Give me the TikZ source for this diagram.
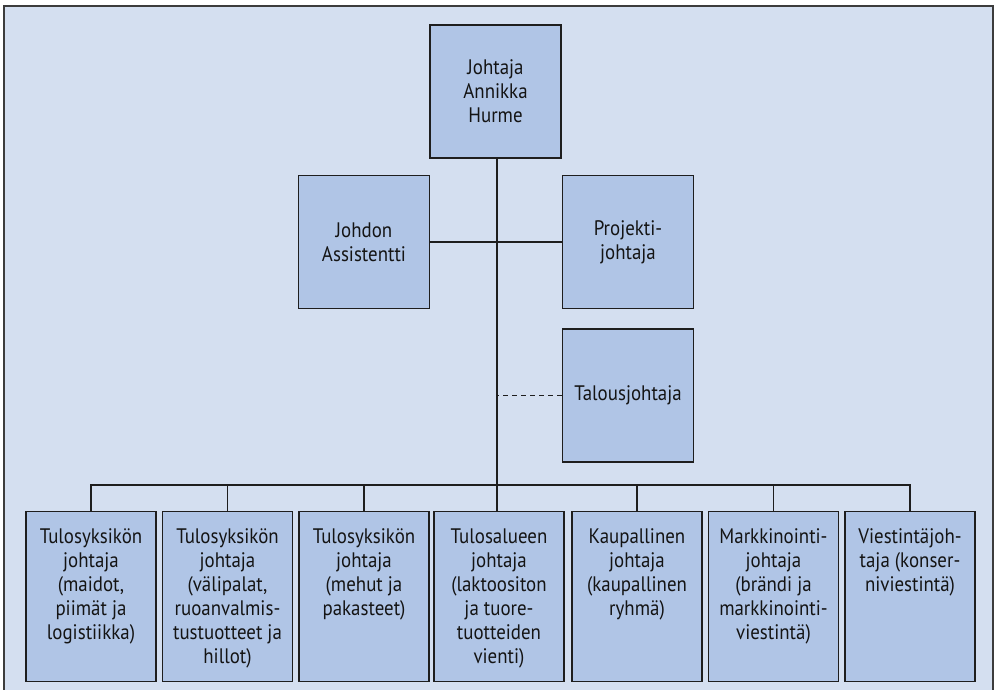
\documentclass[tikz,border=0pt]{standalone}
\usepackage{fontspec}
\setmainfont{PT Sans}[FakeStretch=0.9]
\usepackage{tikz}
\usetikzlibrary{positioning}
\definecolor{orgbg}{RGB}{212,223,240}
\definecolor{orgfill}{RGB}{176,197,230}
\definecolor{orgline}{RGB}{30,30,30}
\definecolor{orgtext}{RGB}{20,20,20}
\definecolor{orgframe}{RGB}{60,60,60}
\newcommand{\orgfont}{\fontsize{21}{24}\selectfont}
\newcommand{\unittext}[1]{\parbox[c][170pt][t]{128pt}{\vspace*{17pt}\centering #1}}

\begin{document}
\begin{tikzpicture}[x=1pt, y=-1pt,
    box/.style={rectangle, minimum width=131pt, minimum height=133pt,
      draw=orgline, line width=1.3pt, fill=orgfill, align=center,
      font=\orgfont, text=orgtext},
    unit/.style={rectangle, anchor=north, inner sep=0pt, minimum width=130pt,
      minimum height=170pt, draw=orgline, line width=1.3pt, fill=orgfill,
      font=\orgfont, text=orgtext},
    link/.style={draw=orgline, line width=1.1pt}
  ]
    \clip (0,0) rectangle (998,689);
    % Background frame
    \draw[orgframe, line width=2pt, fill=orgbg] (4,6) rectangle (993,700);

    % Management
    \node[box] (boss)  at (495.5,91.5) {Johtaja\\Annikka\\Hurme};
    \node[box] (asst)  at (364,242)    {Johdon\\Assistentti};
    \node[box] (proj)  at (628,242)    {Projekti-\\johtaja};
    \node[box] (cfo)   at (628,395.5)  {Talousjohtaja};

    % Unit heads
    \node[unit] (u1) at (91,511)    {\unittext{Tulosyksikön\\johtaja\\(maidot,\\piimät ja\\logistiikka)}};
    \node[unit] (u2) at (227.5,511) {\unittext{Tulosyksikön\\johtaja\\(välipalat,\\ruoanvalmis-\\tustuotteet ja\\hillot)}};
    \node[unit] (u3) at (364,511)   {\unittext{Tulosyksikön\\johtaja\\(mehut ja\\pakasteet)}};
    \node[unit] (u4) at (499,511)   {\unittext{Tulosalueen\\johtaja\\(laktoositon\\ja tuore-\\tuotteiden\\vienti)}};
    \node[unit] (u5) at (637,511)   {\unittext{Kaupallinen\\johtaja\\(kaupallinen\\ryhmä)}};
    \node[unit] (u6) at (773.5,511) {\unittext{Markkinointi-\\johtaja\\(brändi ja\\markkinointi-\\viestintä)}};
    \node[unit] (u7) at (910,511)   {\unittext{Viestintäjoh-\\taja (konser-\\niviestintä)}};

    % Connectors
    \coordinate (bus) at (497,485);
    \draw[link] (asst.east) -- (proj.west);
    \draw[link] (boss.south -| bus) -- (bus);
    \draw[link, dash pattern=on 5pt off 4pt] (cfo.west) -- (cfo.west -| bus);
    \draw[link] (u1.north) |- (bus) -| (u7.north);
    \draw[link] (u2.north) -- (u2.north |- bus);
    \draw[link] (u3.north) -- (u3.north |- bus);
    \draw[link] (u4.north -| bus) -- (bus);
    \draw[link] (u5.north) -- (u5.north |- bus);
    \draw[link] (u6.north) -- (u6.north |- bus);
  \end{tikzpicture}
\end{document}
